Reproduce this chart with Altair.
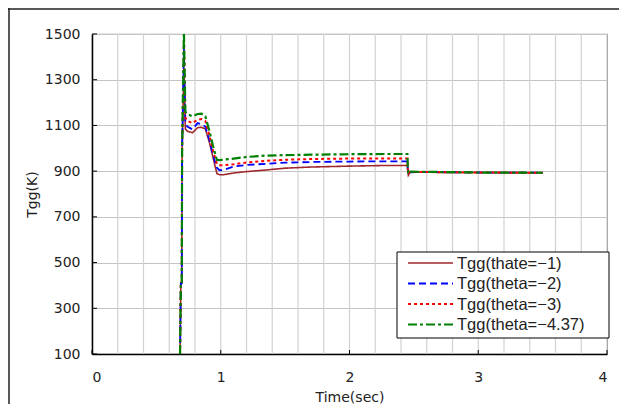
import altair as alt
import pandas as pd

# ---- data ----
series_names = ["Tgg(thate=−1)", "Tgg(theta=−2)", "Tgg(theta=−3)", "Tgg(theta=−4.37)"]
series_colors = ["#A0282D", "#0000FF", "#FF0000", "#008000"]
series_dash = [[1, 0], [7, 4], [3, 3], [9, 3, 3, 3]]
series_width = [1.6, 2.2, 2.2, 2.2]

time_s = [0.684, 0.69, 0.697, 0.700, 0.714, 0.725, 0.74, 0.78, 0.82, 0.85, 0.88,
          0.91, 0.94, 0.97, 0.99, 1.02, 1.1, 1.2, 1.35, 1.5, 1.7, 2.0, 2.3, 2.45,
          2.452, 2.457, 2.47, 2.6, 3.0, 3.5]

tgg_m1 = [100, 410, 410, 1000, 1350, 1085, 1075, 1068, 1090, 1092, 1085,
          1030, 960, 890, 884, 884, 892, 898, 905, 913, 918, 922, 925, 925,
          905, 882, 895, 895, 894, 893]
tgg_m2 = [100, 410, 410, 1000, 1440, 1110, 1095, 1083, 1110, 1105, 1095,
          1040, 970, 915, 904, 905, 920, 927, 932, 937, 940, 942, 943, 943,
          910, 885, 895, 896, 894, 893]
tgg_m3 = [100, 410, 410, 1000, 1470, 1135, 1120, 1110, 1125, 1128, 1120,
          1060, 990, 932, 926, 926, 930, 938, 945, 950, 953, 955, 955, 955,
          920, 888, 897, 896, 894, 893]
tgg_m437 = [100, 410, 410, 1000, 1510, 1160, 1150, 1140, 1150, 1152, 1140,
            1080, 1010, 950, 948, 950, 955, 962, 968, 970, 972, 974, 975, 975,
            930, 890, 898, 897, 894, 893]

y_ticks = [100, 300, 500, 700, 900, 1100, 1300, 1500]
x_ticks = [0, 1, 2, 3, 4]
x_grid = [0.2, 0.4, 0.6, 0.8, 1, 1.2, 1.4, 1.6, 1.8, 2, 2.2, 2.4, 2.6, 2.8,
          3, 3.2, 3.4, 3.6, 3.8]

rows = []
for name, vals in zip(series_names, [tgg_m1, tgg_m2, tgg_m3, tgg_m437]):
    for i, (t, v) in enumerate(zip(time_s, vals)):
        rows.append({"t": t, "v": v, "s": name, "i": i})
df = pd.DataFrame(rows)

W, H = 515, 320
FONT = "DejaVu Sans"
LFONT = "Liberation Sans"

xs = alt.Scale(domain=[0, 4], nice=False, zero=False)
ys = alt.Scale(domain=[100, 1500], nice=False, zero=False)
cs = alt.Scale(domain=series_names, range=series_colors)
ds = alt.Scale(domain=series_names, range=series_dash)
ws = alt.Scale(domain=series_names, range=series_width)

xgrid = alt.Chart(pd.DataFrame({"t": x_grid})).mark_rule(color="#d2d2d2", strokeWidth=1.2).encode(
    x=alt.X("t:Q", scale=xs, axis=alt.Axis(
        values=x_ticks, title="Time(sec)", ticks=False, grid=False, labelOverlap=False,
        format="d", labelPadding=16, titlePadding=6, domainColor="black", domainWidth=1.5)),
    y=alt.value(0), y2=alt.value(H))

lines = alt.Chart(df).mark_line(clip=True).encode(
    x=alt.X("t:Q", scale=xs),
    y=alt.Y("v:Q", scale=ys, axis=alt.Axis(
        values=y_ticks, title="Tgg(K)", ticks=False, grid=True, format="d",
        labelPadding=12, titlePadding=5, domainColor="black", domainWidth=1.5,
        gridColor="#c4c4c4", gridWidth=1.2)),
    color=alt.Color("s:N", scale=cs, legend=None),
    strokeDash=alt.StrokeDash("s:N", scale=ds, legend=None),
    strokeWidth=alt.StrokeWidth("s:N", scale=ws, legend=None),
    order="i:Q",
)

ytick_df = pd.DataFrame({"v": y_ticks})
yticks = alt.Chart(ytick_df).mark_rule(color="black", strokeWidth=1).encode(
    y=alt.Y("v:Q", scale=ys), x=alt.value(0), x2=alt.value(5))

xtick_df = pd.DataFrame({"t": x_ticks})
xticks = alt.Chart(xtick_df).mark_rule(color="black", strokeWidth=1).encode(
    x=alt.X("t:Q", scale=xs), y=alt.value(H), y2=alt.value(H - 4))

one = pd.DataFrame({"k": [0]})
frame_top = alt.Chart(one).mark_rule(color="#222", strokeWidth=1.5, clip=False).encode(
    x=alt.value(-84), x2=alt.value(W + 12), y=alt.value(-25))
frame_left = alt.Chart(one).mark_rule(color="#222", strokeWidth=1.5, clip=False).encode(
    x=alt.value(-83), y=alt.value(-26), y2=alt.value(H + 50))

# ---- legend box (manual) ----
LX0, LX1, LY0, LY1 = 305, 517, 218, 304
legend_box = alt.Chart(one).mark_rect(fill="white", stroke="black", strokeWidth=1).encode(
    x=alt.value(LX0), x2=alt.value(LX1), y=alt.value(LY0), y2=alt.value(LY1))

leg_df = pd.DataFrame({"s": series_names})
legend_layers = [legend_box]
for k, name in enumerate(series_names):
    yk = 229 + 20.5 * k
    sub = leg_df[leg_df["s"] == name]
    legend_layers.append(
        alt.Chart(sub).mark_rule().encode(
            x=alt.value(316), x2=alt.value(361), y=alt.value(yk),
            color=alt.Color("s:N", scale=cs, legend=None),
            strokeDash=alt.StrokeDash("s:N", scale=ds, legend=None),
            strokeWidth=alt.StrokeWidth("s:N", scale=ws, legend=None),
        ))
    legend_layers.append(
        alt.Chart(sub).mark_text(align="left", baseline="middle", font=LFONT,
                                 fontSize=16.5, color="#222").encode(
            x=alt.value(365), y=alt.value(yk + 0.5), text="s:N"))

chart = alt.layer(xgrid, lines, yticks, xticks, frame_top, frame_left, *legend_layers).properties(
    width=W, height=H,
    autosize=alt.AutoSizeParams(type="none"),
    padding={"left": 84, "top": 26, "right": 12, "bottom": 50},
    background="white",
).configure_view(stroke="#a0a0a0", strokeWidth=1.2).configure_axis(
    labelFont=FONT, titleFont=FONT, labelFontSize=14, titleFontSize=14,
    labelColor="#222", titleColor="#222", titleFontWeight="normal",
)

chart.save("out.html", embed_options={"renderer": "svg", "actions": False})
